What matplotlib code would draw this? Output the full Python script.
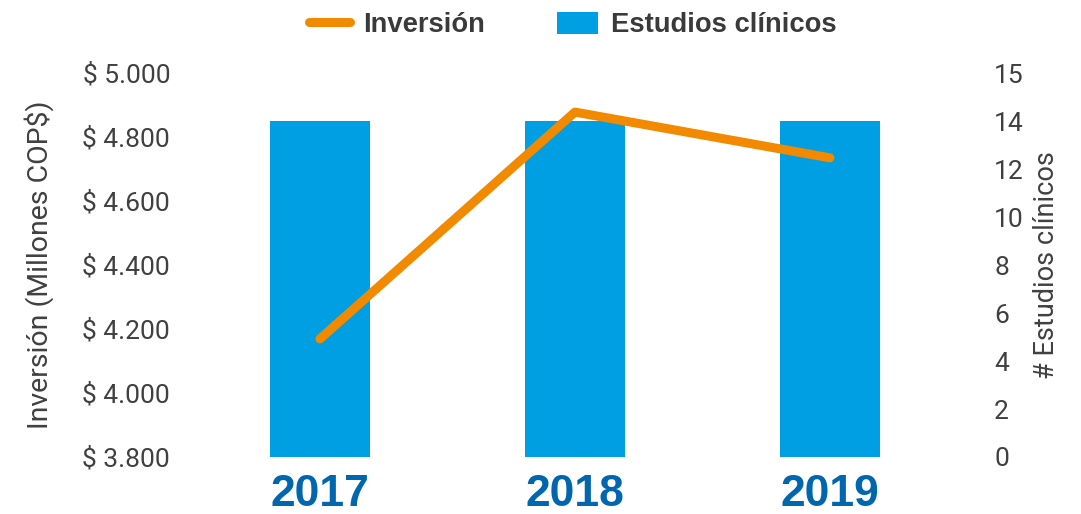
import matplotlib
matplotlib.use("Agg")
import matplotlib.pyplot as plt
import numpy as np

# Data
years = ["2017", "2018", "2019"]
inversion = [4169, 4878, 4735]        # millones COP$
estudios = [14, 14, 14]               # número de estudios clínicos

left_ticks = [3800, 4000, 4200, 4400, 4600, 4800, 5000]
left_labels = ["$ 3.800", "$ 4.000", "$ 4.200", "$ 4.400", "$ 4.600", "$ 4.800", "$ 5.000"]
right_ticks = [0, 2, 4, 6, 8, 10, 12, 14, 16]
right_labels = ["0", "2", "4", "6", "8", "10", "12", "14", "15"]

BLUE = "#009FE3"
ORANGE = "#F28A00"
DARK_BLUE = "#0066AE"
GREY = "#404040"
TICK_FONT = "Roboto"
BOLD_FONT = ["Liberation Sans", "DejaVu Sans"]

fig = plt.figure(figsize=(10.81, 5.14), dpi=100)
ax = fig.add_axes([0.178, 0.1109, 0.7077, 0.747])
ax2 = ax.twinx()

x = np.arange(len(years))

# bars on the right axis
bars = ax2.bar(x, estudios, width=0.39, color=BLUE, label="Estudios clínicos", zorder=1)
ax2.set_ylim(0, 16)
ax2.set_yticks(right_ticks)
ax2.set_yticklabels(right_labels, fontsize=19, color=GREY, family=TICK_FONT)
ax2.tick_params(axis="y", length=0, pad=26.5)
ax2.set_ylabel("# Estudios clínicos", fontsize=19.5, color=GREY, family=TICK_FONT)
ax2.yaxis.set_label_coords(1.099, 0.5)

# line on the left axis, drawn above the bars
ax.set_zorder(ax2.get_zorder() + 1)
ax.patch.set_visible(False)
line, = ax.plot(x, inversion, color=ORANGE, linewidth=6.5,
                solid_capstyle="round", solid_joinstyle="round", label="Inversión")
ax.set_ylim(3800, 5000)
ax.set_yticks(left_ticks)
ax.set_yticklabels(left_labels, fontsize=19, color=GREY, family=TICK_FONT)
ax.tick_params(axis="y", length=0, pad=16)
ax.set_ylabel("Inversión (Millones COP$)", fontsize=20.5, color=GREY, family=TICK_FONT)
ax.yaxis.set_label_coords(-0.181, 0.5)

ax.set_xlim(-0.5, 2.5)
ax.set_xticks(x)
ax.set_xticklabels(years, fontsize=32, fontweight="bold", color=DARK_BLUE, family=BOLD_FONT)
ax.tick_params(axis="x", length=0, pad=12)
ax2.tick_params(axis="x", length=0)

for a in (ax, ax2):
    for s in a.spines.values():
        s.set_visible(False)

leg = fig.legend(handles=[line, bars], labels=["Inversión", "Estudios clínicos"],
                 loc="center", bbox_to_anchor=(0.530, 0.951), ncol=2, frameon=False,
                 handlelength=1.5, handleheight=0.84, handletextpad=0.47,
                 columnspacing=2.66, prop={"family": BOLD_FONT, "weight": "bold", "size": 19.7})
for t in leg.get_texts():
    t.set_color("#3A3A3A")

fig.savefig("out.png", dpi=100)
